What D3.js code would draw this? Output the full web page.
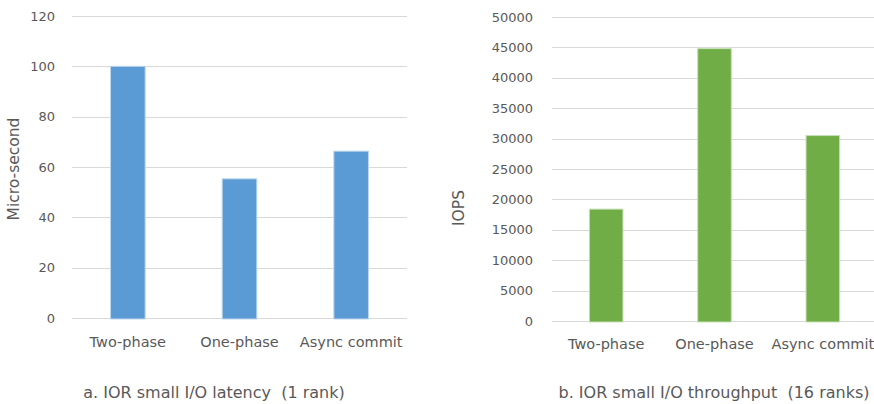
<!DOCTYPE html>
<html>
<head>
<meta charset="utf-8">
<script src="https://cdn.jsdelivr.net/npm/d3@7"></script>
<style>
  html, body { margin: 0; padding: 0; background: #fff; }
  svg { display: block; }
  text { font-family: "DejaVu Sans", sans-serif; fill: #595959; white-space: pre; }
</style>
</head>
<body>
<svg id="chart" width="874" height="404"></svg>
<script>
// Categories shared by both panels
const categories = ["Two-phase", "One-phase", "Async commit"];

// Panel a: latency (micro-seconds), 1 rank
const latencyValues = [100, 55.3, 66.3];
const latencyTicks = [0, 20, 40, 60, 80, 100, 120];

// Panel b: throughput (IOPS), 16 ranks
const iopsValues = [18400, 44800, 30500];
const iopsTicks = [0, 5000, 10000, 15000, 20000, 25000, 30000, 35000, 40000, 45000, 50000];

const titles = ["a. IOR small I/O latency  (1 rank)", "b. IOR small I/O throughput  (16 ranks)"];
const yLabels = ["Micro-second", "IOPS"];

const svg = d3.select("#chart");

function panel(cfg) {
  const g = svg.append("g");
  const x = d3.scaleBand().domain(categories).range([cfg.x0, cfg.x1]).paddingInner(0.69).paddingOuter(0.345);
  const y = d3.scaleLinear().domain([0, cfg.ticks[cfg.ticks.length - 1]]).range([cfg.yBottom, cfg.yTop]);

  // horizontal gridlines
  g.append("g").selectAll("line").data(cfg.ticks).join("line")
    .attr("x1", cfg.x0).attr("x2", cfg.x1)
    .attr("y1", d => Math.round(y(d)) + 0.5).attr("y2", d => Math.round(y(d)) + 0.5)
    .attr("stroke", "#d9d9d9").attr("stroke-width", 1);

  // y tick labels
  const yAxis = d3.axisLeft(y).tickValues(cfg.ticks).tickSize(0).tickPadding(0).tickFormat(d3.format("d"));
  const ya = g.append("g").attr("transform", `translate(${cfg.tickX},0)`).call(yAxis);
  ya.select(".domain").remove();
  ya.selectAll("text").attr("font-size", 13).attr("fill", "#595959")
    .style("font-family", '"DejaVu Sans", sans-serif');

  // bars
  g.append("g").selectAll("rect").data(cfg.values).join("rect")
    .attr("x", (d, i) => x(categories[i]))
    .attr("width", x.bandwidth())
    .attr("y", d => y(d))
    .attr("height", d => y(0) - y(d) + 1)
    .attr("fill", cfg.color)
    .attr("stroke", cfg.edge).attr("stroke-width", 1);

  // category labels
  g.append("g").selectAll("text").data(categories).join("text")
    .attr("x", d => x(d) + x.bandwidth() / 2)
    .attr("y", cfg.catY)
    .attr("text-anchor", "middle")
    .attr("dominant-baseline", "middle")
    .attr("font-size", 14.5)
    .text(d => d);

  // y axis title
  g.append("text")
    .attr("transform", `translate(${cfg.ylabX},${cfg.ylabY}) rotate(-90)`)
    .attr("text-anchor", "middle").attr("dominant-baseline", "middle")
    .attr("font-size", 15.5)
    .text(cfg.yLabel);

  // panel caption
  g.append("text")
    .attr("x", cfg.titleX).attr("y", 393)
    .attr("text-anchor", "middle").attr("dominant-baseline", "middle")
    .attr("font-size", 16)
    .text(cfg.title);
}

panel({
  x0: 72, x1: 407, yTop: 16, yBottom: 318,
  ticks: latencyTicks, values: latencyValues,
  color: "#5b9bd5", edge: "#bdd7ee",
  tickX: 55, catY: 343, ylabX: 14, ylabY: 169,
  yLabel: yLabels[0], title: titles[0], titleX: 214
});

panel({
  x0: 552, x1: 877, yTop: 17, yBottom: 321,
  ticks: iopsTicks, values: iopsValues,
  color: "#70ad47", edge: "#c5e0b4",
  tickX: 533, catY: 345, ylabX: 459, ylabY: 208,
  yLabel: yLabels[1], title: titles[1], titleX: 714
});
</script>
</body>
</html>
